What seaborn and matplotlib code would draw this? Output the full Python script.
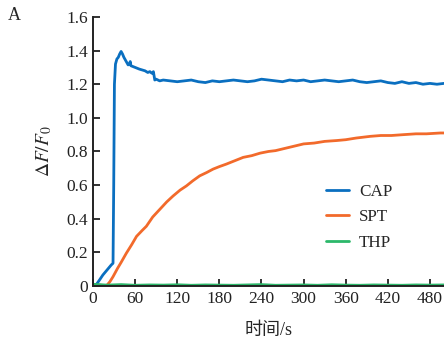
import numpy as np
import pandas as pd
import seaborn as sns
import matplotlib.pyplot as plt

# CAP trace (time in s, dF/F0)
cap_t = [0, 5, 10, 14, 18, 22, 26, 28.5, 29.5, 30.5, 32, 34, 36, 38, 40, 42, 44, 46, 48, 50,
         52, 53, 54, 57, 60, 63, 66, 70, 74, 78, 81, 84, 86, 87, 88, 90, 95, 100, 110, 120,
         130, 140, 150, 160, 170, 180, 190, 200, 210, 220, 230, 240, 250, 260, 270, 280,
         290, 300, 310, 320, 330, 340, 350, 360, 370, 380, 390, 400, 410, 420, 430, 440,
         450, 460, 470, 480, 490, 500]
cap_v = [0.0, 0.01, 0.04, 0.065, 0.085, 0.105, 0.125, 0.135, 0.6, 1.2, 1.32, 1.35, 1.36, 1.38,
         1.395, 1.38, 1.36, 1.345, 1.33, 1.315, 1.32, 1.335, 1.31, 1.305, 1.30, 1.295, 1.29,
         1.285, 1.28, 1.27, 1.275, 1.265, 1.275, 1.25, 1.225, 1.23, 1.22, 1.225, 1.22, 1.215,
         1.22, 1.225, 1.215, 1.21, 1.22, 1.215, 1.22, 1.225, 1.22, 1.215, 1.22, 1.23, 1.225,
         1.22, 1.215, 1.225, 1.22, 1.225, 1.215, 1.22, 1.225, 1.22, 1.215, 1.22, 1.225, 1.215,
         1.21, 1.215, 1.22, 1.21, 1.205, 1.215, 1.205, 1.21, 1.20, 1.205, 1.20, 1.205]

# SPT trace
spt_t = [0, 10, 19, 24, 28.5, 35, 40, 47.5, 55, 62, 70, 76, 85, 95, 105, 114, 124, 133, 142,
         152, 162, 171, 180, 190, 202, 214, 226, 238, 250, 260, 275, 290, 300, 315, 330, 347,
         360, 375, 395, 410, 425, 442, 460, 475, 495, 500]
spt_v = [0.0, 0.005, 0.0, 0.025, 0.055, 0.105, 0.14, 0.195, 0.245, 0.295, 0.33, 0.355, 0.41,
         0.455, 0.5, 0.535, 0.57, 0.595, 0.625, 0.655, 0.675, 0.695, 0.71, 0.725, 0.745,
         0.765, 0.775, 0.79, 0.80, 0.805, 0.82, 0.835, 0.845, 0.85, 0.86, 0.865, 0.87, 0.88,
         0.89, 0.895, 0.895, 0.90, 0.905, 0.905, 0.91, 0.91]

# THP trace
thp_t = [0, 20, 40, 60, 80, 100, 120, 140, 160, 180, 200, 220, 240, 260, 280, 300, 320, 340,
         360, 380, 400, 420, 440, 460, 480, 500]
thp_v = [0.01, 0.005, 0.008, 0.004, 0.006, 0.005, 0.007, 0.004, 0.006, 0.005, 0.004, 0.006,
         0.008, 0.004, 0.005, 0.006, 0.004, 0.007, 0.005, 0.004, 0.006, 0.005, 0.004, 0.006,
         0.005, 0.006]

series_names = ['CAP', 'SPT', 'THP']
colors = ['#0a6fc0', '#f26a2b', '#2cb86a']

df = pd.concat([
    pd.DataFrame({'t': cap_t, 'v': cap_v, 'drug': 'CAP'}),
    pd.DataFrame({'t': spt_t, 'v': spt_v, 'drug': 'SPT'}),
    pd.DataFrame({'t': thp_t, 'v': thp_v, 'drug': 'THP'}),
])

sns.set_style('ticks')
plt.rcParams['font.family'] = ['Liberation Serif', 'Noto Sans CJK SC']
plt.rcParams['mathtext.fontset'] = 'stix'

fig = plt.figure(figsize=(4.44, 3.40), dpi=100)
ax = fig.add_axes([0.2095, 0.159, 0.7905, 0.791])

for name, col in zip(series_names, colors):
    sub = df[df['drug'] == name]
    sns.lineplot(data=sub, x='t', y='v', color=col, lw=2.0, ax=ax, label=name,
                 estimator=None, sort=False)

ax.set_xlim(0, 500)
ax.set_ylim(0, 1.6)
ax.set_xticks(np.arange(0, 481, 60))
ax.set_yticks(np.arange(0, 1.61, 0.2))
ax.set_yticklabels(['0'] + [f'{v:.1f}' for v in np.arange(0.2, 1.61, 0.2)])
ax.tick_params(direction='in', length=5, width=1.3, labelsize=12.5, colors='#222222')
for side in ['top', 'right']:
    ax.spines[side].set_visible(False)
for side in ['left', 'bottom']:
    ax.spines[side].set_linewidth(1.4)
    ax.spines[side].set_color('#222222')

ax.set_xlabel('时间/s', fontsize=13, labelpad=11)
ax.set_ylabel(r'$\Delta \mathit{F}/\mathit{F}_{0}$', fontsize=14, labelpad=9)
fig.text(0.018, 0.94, 'A', fontsize=13)

leg = ax.legend(loc='upper left', bbox_to_anchor=(0.665, 0.38), frameon=False, fontsize=12.3,
                handlelength=1.3, handletextpad=0.6, labelspacing=0.55, borderpad=0,
                borderaxespad=0)

fig.savefig('out.png', dpi=100)
